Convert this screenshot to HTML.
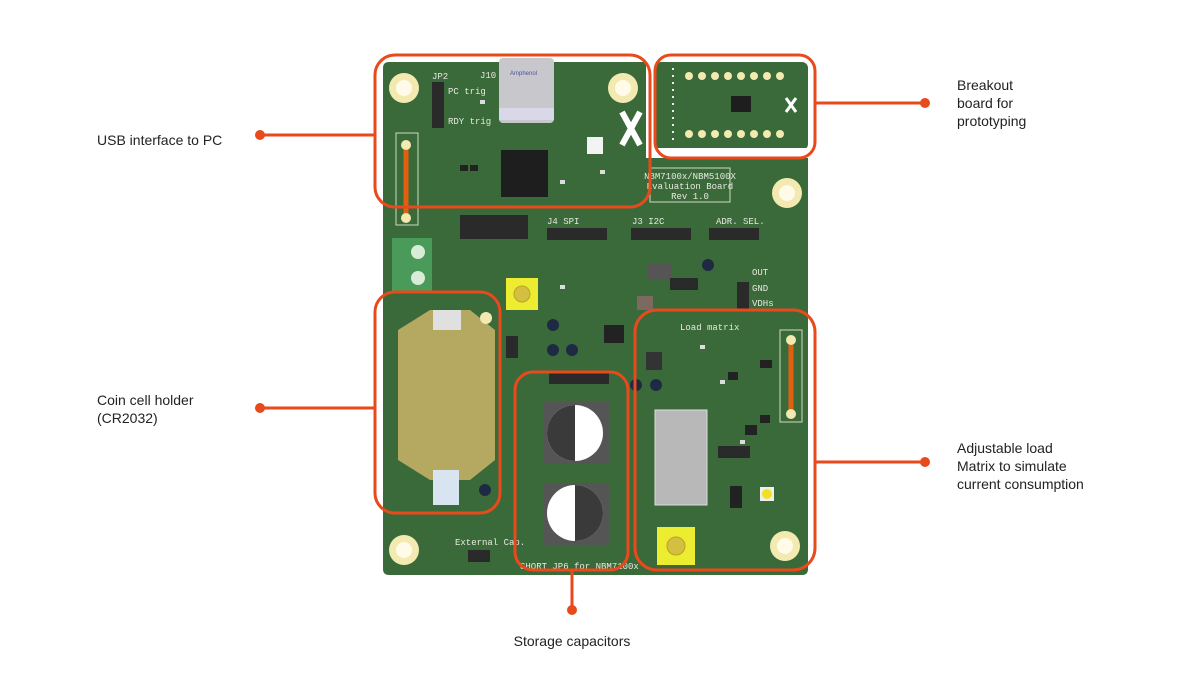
<!DOCTYPE html>
<html><head><style>
html,body{margin:0;padding:0;background:#fff;width:1200px;height:675px;overflow:hidden}
svg{display:block}
.lbl{font-family:"Liberation Sans",sans-serif;font-size:14px;fill:#222}
.pcb{font-family:"Liberation Mono",monospace;font-size:9px;fill:#e8e8e0}
</style></head><body>
<svg width="1200" height="675" viewBox="0 0 1200 675">
<path d="M389 62 H646 V150 H802 Q808 150 808 156 V569 Q808 575 802 575 H389 Q383 575 383 569 V68 Q383 62 389 62 Z" fill="#3b6a3a"/>
<rect x="655" y="62" width="153" height="88" rx="6" fill="#3b6a3a"/>
<rect x="646" y="148" width="162" height="10" fill="#fff"/>
<path d="M646 158 H802 Q808 158 808 164 V200 H646Z" fill="#3b6a3a"/>
<g fill="#f2eab0"><circle cx="404" cy="88" r="15"/><circle cx="623" cy="88" r="15"/><circle cx="787" cy="193" r="15"/><circle cx="404" cy="550" r="15"/><circle cx="785" cy="546" r="15"/></g>
<g fill="#fffbe8"><circle cx="404" cy="88" r="8"/><circle cx="623" cy="88" r="8"/><circle cx="787" cy="193" r="8"/><circle cx="404" cy="550" r="8"/><circle cx="785" cy="546" r="8"/></g>
<rect x="499" y="58" width="55" height="65" rx="4" fill="#c8c8cc"/>
<rect x="499" y="108" width="55" height="12" fill="#d8d8e8"/>
<text x="510" y="75" font-family="Liberation Sans" font-size="6" fill="#5050a0">Amphenol</text>
<rect x="501" y="150" width="47" height="47" fill="#1e1e1e"/>
<rect x="587" y="137" width="16" height="17" fill="#f3f3f3"/>
<rect x="647" y="263" width="25" height="17" fill="#555"/>
<path d="M622 112 L640 145 M640 112 L622 145" stroke="#fff" stroke-width="6"/>
<g fill="#ddd"><rect x="422" y="238" width="6" height="4"/><rect x="480" y="100" width="5" height="4"/><rect x="560" y="180" width="5" height="4"/><rect x="600" y="170" width="5" height="4"/><rect x="700" y="345" width="5" height="4"/><rect x="720" y="380" width="5" height="4"/><rect x="740" y="440" width="5" height="4"/><rect x="560" y="285" width="5" height="4"/></g>
<g fill="#222"><rect x="460" y="165" width="8" height="6"/><rect x="470" y="165" width="8" height="6"/><rect x="760" y="360" width="12" height="8"/><rect x="728" y="372" width="10" height="8"/><rect x="745" y="425" width="12" height="10"/><rect x="760" y="415" width="10" height="8"/></g>
<g fill="#1e2a44"><circle cx="553" cy="325" r="6"/><circle cx="553" cy="350" r="6"/><circle cx="572" cy="350" r="6"/><circle cx="636" cy="385" r="6"/><circle cx="656" cy="385" r="6"/><circle cx="708" cy="265" r="6"/><circle cx="485" cy="490" r="6"/></g>
<rect x="432" y="82" width="12" height="46" fill="#2a2a2a"/>
<text class="pcb" x="448" y="94">PC trig</text><text class="pcb" x="448" y="124">RDY trig</text>
<text class="pcb" x="432" y="79">JP2</text><text class="pcb" x="480" y="78">J10</text>
<rect x="396" y="133" width="22" height="92" fill="none" stroke="#cfd8c0" stroke-width="1"/>
<line x1="406" y1="145" x2="406" y2="218" stroke="#e06010" stroke-width="5" stroke-linecap="round"/>
<circle cx="406" cy="145" r="5" fill="#f2eab0"/><circle cx="406" cy="218" r="5" fill="#f2eab0"/>
<rect x="780" y="330" width="22" height="92" fill="none" stroke="#cfd8c0"/>
<line x1="791" y1="340" x2="791" y2="414" stroke="#e06010" stroke-width="5" stroke-linecap="round"/>
<circle cx="791" cy="340" r="5" fill="#f2eab0"/><circle cx="791" cy="414" r="5" fill="#f2eab0"/>
<rect x="460" y="215" width="68" height="24" fill="#2a2a2a"/>
<rect x="547" y="228" width="60" height="12" fill="#2a2a2a"/>
<rect x="631" y="228" width="60" height="12" fill="#2a2a2a"/>
<rect x="709" y="228" width="50" height="12" fill="#2a2a2a"/>
<rect x="737" y="282" width="12" height="28" fill="#2a2a2a"/>
<rect x="670" y="278" width="28" height="12" fill="#2a2a2a"/>
<rect x="549" y="372" width="60" height="12" fill="#2a2a2a"/>
<rect x="506" y="336" width="12" height="22" fill="#2a2a2a"/>
<rect x="718" y="446" width="32" height="12" fill="#2a2a2a"/>
<text class="pcb" x="547" y="224">J4 SPI</text><text class="pcb" x="632" y="224">J3 I2C</text>
<text class="pcb" x="716" y="224">ADR. SEL.</text>
<text class="pcb" x="752" y="275">OUT</text><text class="pcb" x="752" y="291">GND</text><text class="pcb" x="752" y="306">VDHs</text>
<g fill="#f2eab0"><circle cx="689" cy="76" r="4"/><circle cx="702" cy="76" r="4"/><circle cx="715" cy="76" r="4"/><circle cx="728" cy="76" r="4"/><circle cx="741" cy="76" r="4"/><circle cx="754" cy="76" r="4"/><circle cx="767" cy="76" r="4"/><circle cx="780" cy="76" r="4"/><circle cx="689" cy="134" r="4"/><circle cx="702" cy="134" r="4"/><circle cx="715" cy="134" r="4"/><circle cx="728" cy="134" r="4"/><circle cx="741" cy="134" r="4"/><circle cx="754" cy="134" r="4"/><circle cx="767" cy="134" r="4"/><circle cx="780" cy="134" r="4"/></g>
<line x1="673" y1="68" x2="673" y2="145" stroke="#eee" stroke-width="2" stroke-dasharray="2 5"/>
<path d="M786 98 L796 112 M796 98 L786 112" stroke="#fff" stroke-width="3"/>
<rect x="731" y="96" width="20" height="16" fill="#1e1e1e"/>
<rect x="650" y="168" width="80" height="34" fill="none" stroke="#cfd8c0"/>
<text class="pcb" x="690" y="179" text-anchor="middle">NBM7100x/NBM5100X</text>
<text class="pcb" x="690" y="189" text-anchor="middle">Evaluation Board</text>
<text class="pcb" x="690" y="199" text-anchor="middle">Rev 1.0</text>
<rect x="392" y="238" width="40" height="55" fill="#4a9a5a"/>
<circle cx="418" cy="252" r="7" fill="#d8ecd8"/><circle cx="418" cy="278" r="7" fill="#d8ecd8"/>
<rect x="506" y="278" width="32" height="32" fill="#ecec30"/><circle cx="522" cy="294" r="8" fill="#d4c040" stroke="#c0a020"/>
<rect x="657" y="527" width="38" height="38" fill="#ecec30"/><circle cx="676" cy="546" r="9" fill="#d4c040" stroke="#c0a020"/>
<path d="M398 330 L430 310 H470 L495 330 V460 L470 480 H430 L398 460 Z" fill="#b5a860"/>
<rect x="433" y="310" width="28" height="20" fill="#e0e0e0"/>
<rect x="433" y="470" width="26" height="35" fill="#d8e4f0"/>
<circle cx="486" cy="318" r="6" fill="#f2eab0"/>
<rect x="543" y="402" width="66" height="62" fill="#555"/><circle cx="575" cy="433" r="28" fill="#fff"/><path d="M575 405 A28 28 0 0 0 575 461Z" fill="#3a3a3a"/>
<rect x="543" y="483" width="66" height="62" fill="#555"/><circle cx="575" cy="513" r="28" fill="#fff"/><path d="M575 485 A28 28 0 0 1 575 541Z" fill="#3a3a3a"/>
<text class="pcb" x="520" y="569">SHORT JP6 for NBM7100x</text>
<text class="pcb" x="455" y="545">External Cap.</text>
<rect x="468" y="550" width="22" height="12" fill="#2a2a2a"/>
<rect x="655" y="410" width="52" height="95" fill="#b8b8b8" stroke="#ddd"/>
<rect x="760" y="487" width="14" height="14" fill="#eee"/><circle cx="767" cy="494" r="5" fill="#f0e020"/>
<text class="pcb" x="680" y="330">Load matrix</text>
<rect x="646" y="352" width="16" height="18" fill="#333"/>
<rect x="604" y="325" width="20" height="18" fill="#222"/>
<rect x="637" y="296" width="16" height="14" fill="#7a6a60"/>
<rect x="730" y="486" width="12" height="22" fill="#222"/>
<g fill="none" stroke="#e84a1c" stroke-width="3">
<rect x="375" y="55" width="275" height="152" rx="20"/>
<rect x="655" y="55" width="160" height="103" rx="16"/>
<rect x="375" y="292" width="125" height="221" rx="20"/>
<rect x="515" y="372" width="113" height="198" rx="18"/>
<rect x="635" y="310" width="180" height="260" rx="22"/>
<line x1="260" y1="135" x2="375" y2="135"/>
<line x1="260" y1="408" x2="375" y2="408"/>
<line x1="815" y1="103" x2="925" y2="103"/>
<line x1="815" y1="462" x2="925" y2="462"/>
<line x1="572" y1="570" x2="572" y2="610"/>
</g>
<g fill="#e84a1c"><circle cx="260" cy="135" r="5"/><circle cx="260" cy="408" r="5"/><circle cx="925" cy="103" r="5"/><circle cx="925" cy="462" r="5"/><circle cx="572" cy="610" r="5"/></g>
<text class="lbl" x="97" y="145">USB interface to PC</text>
<text class="lbl" x="97" y="405">Coin cell holder</text>
<text class="lbl" x="97" y="423">(CR2032)</text>
<text class="lbl" x="957" y="90">Breakout</text>
<text class="lbl" x="957" y="108">board for</text>
<text class="lbl" x="957" y="126">prototyping</text>
<text class="lbl" x="957" y="453">Adjustable load</text>
<text class="lbl" x="957" y="471">Matrix to simulate</text>
<text class="lbl" x="957" y="489">current consumption</text>
<text class="lbl" x="572" y="646" text-anchor="middle">Storage capacitors</text>
</svg>
</body></html>
